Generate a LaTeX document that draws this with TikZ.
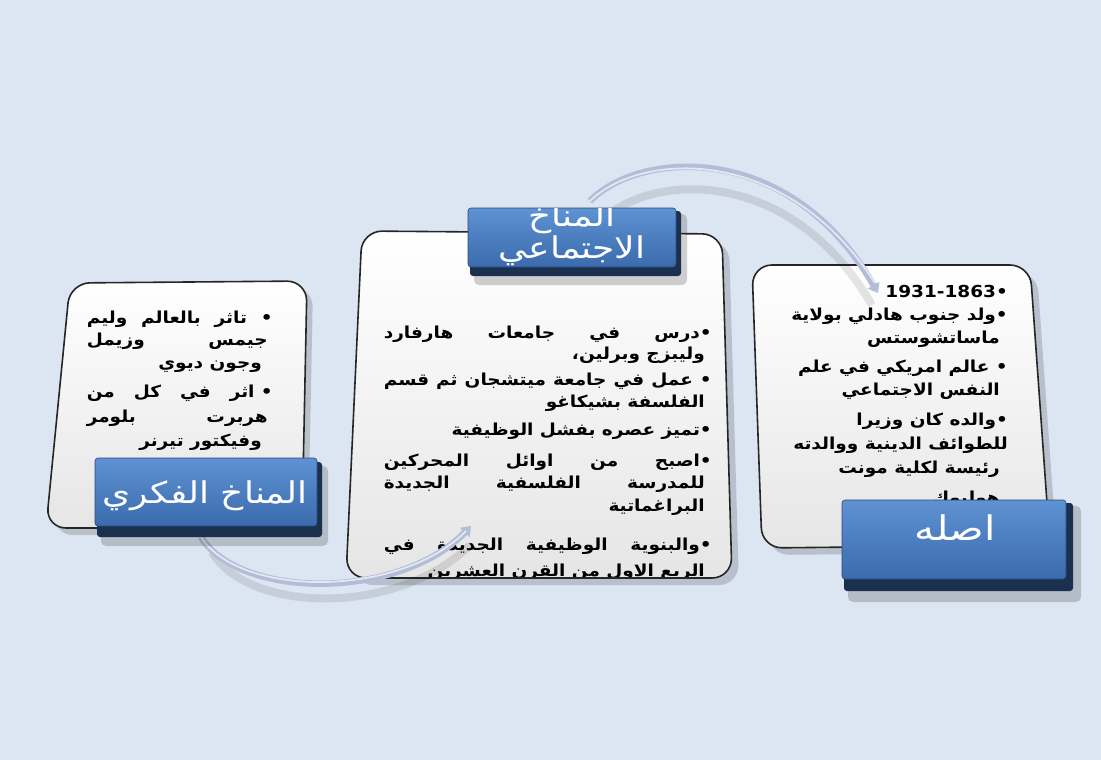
\documentclass[tikz,border=0pt]{standalone}
\usepackage{fontspec}
\usetikzlibrary{arrows.meta}
\TeXXeTstate=1
\newfontfamily\arabicfont[Script=Arabic,FakeStretch=1.12]{DejaVu Sans}
\newfontfamily\arabiclbl[Script=Arabic,FakeStretch=1.2]{DejaVu Sans}
\newcommand\artxt[4]{\node[txt,anchor=base east] (#1) at (#2,#3) {#4};}
\newcommand\jtxt[5]{\node[txt,anchor=base east] (#1) at (#2,#3) {\hbox to #4pt{#5}};}
\definecolor{bg}{HTML}{DCE6F2}
\definecolor{lblA}{HTML}{5E92D2}
\definecolor{lblB}{HTML}{3B6BAD}
\definecolor{lblDark}{HTML}{1B2F4E}
\definecolor{arr}{HTML}{B3BDD8}
\tikzset{
  card/.style={draw=black!85, line width=1.6pt, rounded corners=20pt, top color=white, bottom color=black!10},
  cardshadow/.style={fill=black, opacity=0.16, rounded corners=20pt},
  txt/.style={font=\arabicfont\bfseries\fontsize{16.5}{18}\selectfont, inner sep=0pt, text=black},
  lbltxt/.style={font=\arabiclbl\fontsize{30}{34}\selectfont, text=white, inner sep=0pt},
  lblface/.style={top color=lblA, bottom color=lblB, rounded corners=3pt, draw=lblB!70!black, line width=0.6pt},
  lbldepth/.style={fill=lblDark, rounded corners=3pt},
  lblshadow/.style={fill=black, opacity=0.18, rounded corners=5pt},
  arrowline/.style={line width=6.5pt, draw=arr, -{Triangle[length=9pt,width=13pt]}},
  arrowshadow/.style={line width=8pt, draw=black, opacity=0.10},
  arrowshine/.style={line width=1.8pt, draw=white, opacity=0.65}
}
\begin{document}
\begin{tikzpicture}[x=1pt,y=-1pt]
\useasboundingbox (0,0) rectangle (1101,760);
\fill[bg] (0,0) rectangle (1101,760);

% ---------- card shadows
\fill[cardshadow] (77,289) -- (313,287) -- (308,536) -- (53,535) -- cycle;
\fill[cardshadow] (369,238) -- (729,241) -- (739,585) -- (353,585) -- cycle;
\fill[cardshadow] (759,272) -- (1037,272) -- (1057,552) -- (769,555) -- cycle;

% ---------- cards
\path[card] (70,283) -- (307,281) -- (302,528) -- (46,528) -- cycle;
\path[card] (362,231) -- (722,234) -- (732,578) -- (346,578) -- cycle;
\path[card] (752,265) -- (1030,265) -- (1050,545) -- (762,548) -- cycle;

% ---------- left card text
\jtxt{l1}{273}{323}{186}{\beginR• تاثر بالعالم وليم\endR}
\jtxt{l2}{268}{345}{181}{\beginR جيمس\hfill وزيمل\endR}
\artxt{l3}{262}{368}{\beginR وجون ديوي\endR}
\jtxt{l4}{273}{397}{186}{\beginR• اثر\hfill في\hfill كل\hfill من\endR}
\jtxt{l5}{268}{422}{181}{\beginR هربرت\hfill بلومر\endR}
\artxt{l6}{262}{446}{\beginR وفيكتور تيرنر\endR}

% ---------- centre card text
\begin{scope}
\clip (362,231) -- (722,234) -- (732,576) -- (346,576) -- cycle;
\jtxt{c1}{712}{338}{328}{\beginR•درس\hfill في\hfill جامعات\hfill هارفارد\endR}
\artxt{c2}{705}{359}{\beginR وليبزج وبرلين،\endR}
\jtxt{c3}{712}{385}{328}{\beginR• عمل في جامعة ميتشجان ثم قسم\endR}
\artxt{c4}{705}{407}{\beginR الفلسفة بشيكاغو\endR}
\artxt{c5}{712}{435}{\beginR•تميز عصره بفشل الوظيفية\endR}
\jtxt{c6}{712}{466}{328}{\beginR•اصبح\hfill من\hfill اوائل\hfill المحركين\endR}
\jtxt{c7}{705}{488}{321}{\beginR للمدرسة\hfill الفلسفية\hfill الجديدة\endR}
\artxt{c8}{705}{511}{\beginR البراغماتية\endR}
\jtxt{c9}{712}{550}{328}{\beginR•والبنوية\hfill الوظيفية\hfill الجديدة\hfill في\endR}
\artxt{c10}{705}{576}{\beginR الربع الاول من القرن العشرين\endR}
\end{scope}

% ---------- right card text
\artxt{r1}{1008}{297}{\beginR•\beginL 1931-1863\endL\endR}
\artxt{r2}{1008}{320}{\beginR•ولد جنوب هادلي بولاية\endR}
\artxt{r3}{1000}{343}{\beginR ماساتشوستس\endR}
\artxt{r4}{1008}{372}{\beginR• عالم امريكي في علم\endR}
\artxt{r5}{1000}{395}{\beginR النفس الاجتماعي\endR}
\artxt{r6}{1008}{425}{\beginR•والده كان وزيرا\endR}
\artxt{r7}{1008}{449}{\beginR للطوائف الدينية ووالدته\endR}
\artxt{r8}{1000}{473}{\beginR رئيسة لكلية مونت\endR}
\artxt{r9}{1000}{503}{\beginR هوليوك\endR}

% ---------- connectors
\coordinate (tA) at (590,201);
\coordinate (tB) at (878,293);
\coordinate (bA) at (201,537);
\coordinate (bB) at (471,526);
\draw[arrowshadow] (600,222) .. controls (650,172) and (790,165) .. (872,305);
\draw[arrowshadow] (212,552) .. controls (250,615) and (400,615) .. (470,545);
\draw[arrowline] (tA) .. controls (640,150) and (790,140) .. (tB);
\draw[arrowshine] (tA) .. controls (640,152) and (785,143) .. ([xshift=-3pt,yshift=10pt]tB);
\draw[arrowline] (bA) .. controls (240,600) and (400,600) .. (bB);
\draw[arrowshine] (bA) .. controls (240,598) and (400,598) .. ([xshift=-5pt,yshift=-5pt]bB);

% ---------- labels
% left
\fill[lblshadow] (101,466) rectangle (328,546);
\fill[lbldepth] (97,462) rectangle (322,537);
\path[lblface] (95,458) rectangle (317,526);
\node[lbltxt,anchor=base] (lL) at (205,503) {\beginR المناخ الفكري\endR};
% centre
\fill[lblshadow] (474,214) rectangle (687,285);
\fill[lbldepth] (470,211) rectangle (681,276);
\path[lblface] (468,208) rectangle (676,267);
\begin{scope}
\clip (468,208) rectangle (676,267);
\node[lbltxt,anchor=base] (lC1) at (572,226) {\beginR المناخ\endR};
\node[lbltxt,anchor=base] (lC2) at (572,258) {\beginR الاجتماعي\endR};
\end{scope}
% right
\fill[lblshadow] (848,506) rectangle (1081,602);
\fill[lbldepth] (844,503) rectangle (1073,591);
\path[lblface] (842,500) rectangle (1066,579);
\node[lbltxt,font=\arabiclbl\fontsize{34}{38}\selectfont,anchor=base] (lR) at (955,540) {\beginR اصله\endR};
\end{tikzpicture}
\end{document}
